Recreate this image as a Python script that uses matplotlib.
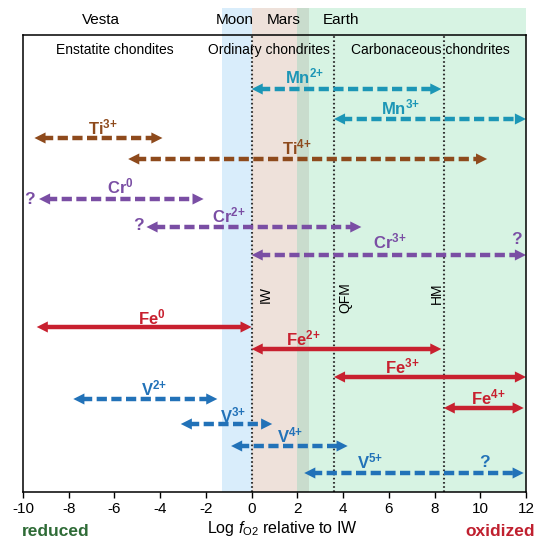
import matplotlib.pyplot as plt
from matplotlib.patches import FancyArrowPatch

plt.rcParams['font.family'] = ['Liberation Sans', 'DejaVu Sans']
plt.rcParams['mathtext.fontset'] = 'custom'
plt.rcParams['mathtext.rm'] = 'Liberation Sans'
plt.rcParams['mathtext.it'] = 'Liberation Sans:italic'
plt.rcParams['mathtext.bf'] = 'Liberation Sans:bold'
plt.rcParams['axes.unicode_minus'] = False

# stability ranges of each valence state, log fO2 relative to IW
ions = ['Mn', 'Mn', 'Ti', 'Ti', 'Cr', 'Cr', 'Cr', 'Fe', 'Fe', 'Fe', 'Fe', 'V', 'V', 'V', 'V']
charges = ['2+', '3+', '3+', '4+', '0', '2+', '3+', '0', '2+', '3+', '4+', '2+', '3+', '4+', '5+']
fo2_low = [0, 3.6, -9.5, -5.4, -9.3, -4.6, 0, -9.4, 0, 3.6, 8.4, -7.8, -3.1, -0.9, 2.3]
fo2_high = [8.3, 12, -3.9, 10.3, -2.1, 4.8, 12, 0, 8.3, 12, 11.9, -1.5, 0.9, 4.2, 11.9]

# buffers
buffers = ['IW', 'QFM', 'HM']
buffer_fo2 = [0, 3.6, 8.4]

# parent bodies
bodies = ['Moon', 'Mars', 'Earth']
body_low = [-1.3, 0, 2]
body_high = [0, 2.5, 12]

ticks = list(range(-10, 13, 2))

# layout (row heights in axes units, top to bottom)
rows = [89, 119, 138, 159, 199, 227, 255, 327, 349, 377, 408, 399, 424, 446, 473]
label_x = [2.3, 6.5, -6.5, 2.0, -5.75, -1.0, 6.05, -4.36, 2.25, 6.6, 10.35, -4.27, -0.8, 1.7, 5.2]
label_y = [76, 107, 127, 147, 186, 215, 241, 317, 338, 366, 397, 388, 415, 435, 461]
colors = {'Mn': '#1c96b6', 'Ti': '#8e4a1c', 'Cr': '#7a4ea4', 'Fe': '#c8202f', 'V': '#2272b8'}
q_marks = [(-9.7, 199, 'Cr'), (-4.95, 225, 'Cr'), (11.6, 239, 'Cr'), (10.2, 462, 'V')]

fig = plt.figure(figsize=(5.39, 5.43), dpi=100)
ax = fig.add_axes([23 / 539, 1 - 492 / 543, 503 / 539, 457 / 543])
ax.set_xlim(-10, 12)
ax.set_ylim(492, 35)

# shaded fO2 ranges of the planets, extending above the frame
top = 1 + 27 / 457
ax.axvspan(body_low[0], body_high[0], ymin=0, ymax=top, color='#d9edfb', lw=0, clip_on=False, zorder=0)
ax.axvspan(body_low[1], body_low[2], ymin=0, ymax=top, color='#eee1da', lw=0, clip_on=False, zorder=0)
ax.axvspan(body_low[2], body_high[1], ymin=0, ymax=top, color='#c9dccd', lw=0, clip_on=False, zorder=0)
ax.axvspan(body_high[1], body_high[2], ymin=0, ymax=top, color='#d7f3e3', lw=0, clip_on=False, zorder=0)

ax.text(-6.6, 20, 'Vesta', ha='center', va='center', fontsize=11)
ax.text(-0.75, 20, 'Moon', ha='center', va='center', fontsize=11)
ax.text(1.4, 20, 'Mars', ha='center', va='center', fontsize=11)
ax.text(3.9, 20, 'Earth', ha='center', va='center', fontsize=11)

ax.text(-6.0, 50, 'Enstatite chondites', ha='center', va='center', fontsize=10)
ax.text(0.75, 50, 'Ordinary chondrites', ha='center', va='center', fontsize=10)
ax.text(7.8, 50, 'Carbonaceous chondrites', ha='center', va='center', fontsize=10)

# buffer lines
for name, x in zip(buffers, buffer_fo2):
    ax.axvline(x, color='#333333', lw=1.5, ls=(0, (0.8, 1.2)), zorder=1)
ax.text(0.6, 294, 'IW', rotation=90, ha='center', va='center', fontsize=10)
ax.text(4.1, 298, 'QFM', rotation=90, ha='center', va='center', fontsize=10)
ax.text(8.1, 293, 'HM', rotation=90, ha='center', va='center', fontsize=10)


def double_arrow(x0, x1, y, color, dashed):
    hl = 0.45
    ls = (0, (2.3, 1.0)) if dashed else '-'
    ax.plot([x0 + hl * 0.8, x1 - hl * 0.8], [y, y], color=color, lw=3.2, ls=ls,
            solid_capstyle='butt', dash_capstyle='butt', zorder=3)
    for tip, tail in ((x0, x0 + hl), (x1, x1 - hl)):
        ax.add_patch(FancyArrowPatch((tail, y), (tip, y),
                                     arrowstyle='-|>,head_length=0.8,head_width=0.4',
                                     mutation_scale=10, color=color, lw=0,
                                     shrinkA=0, shrinkB=0, zorder=3))


for ion, q, lo, hi, y, lx, ly in zip(ions, charges, fo2_low, fo2_high, rows, label_x, label_y):
    c = colors[ion]
    double_arrow(lo, hi, y, c, dashed=(ion != 'Fe'))
    sup = q.replace('+', '{+}')
    ax.text(lx, ly, r'$\mathbf{%s}^{\mathbf{%s}}$' % (ion, sup), color=c,
            ha='center', va='center', fontsize=12, zorder=4)

for x, y, ion in q_marks:
    ax.text(x, y, '?', color=colors[ion], ha='center', va='center',
            fontsize=12.5, fontweight='bold', zorder=4)

ax.set_yticks([])
ax.set_xticks(ticks)
ax.set_xticklabels([str(t) for t in ticks], fontsize=11)
ax.tick_params(axis='x', direction='out', length=4, width=1, pad=3)
for s in ax.spines.values():
    s.set_linewidth(1.1)
    s.set_zorder(5)

fig.text(282 / 539, 1 - 529 / 543, r'Log $f_{\mathrm{O2}}$ relative to IW',
         ha='center', va='center', fontsize=11.5)
fig.text(56 / 539, 1 - 531 / 543, 'reduced', color='#2e6b36', fontweight='bold',
         ha='center', va='center', fontsize=12.5)
fig.text(500 / 539, 1 - 531 / 543, 'oxidized', color='#c0202f', fontweight='bold',
         ha='center', va='center', fontsize=12.5)

fig.savefig('out.png', dpi=100)
